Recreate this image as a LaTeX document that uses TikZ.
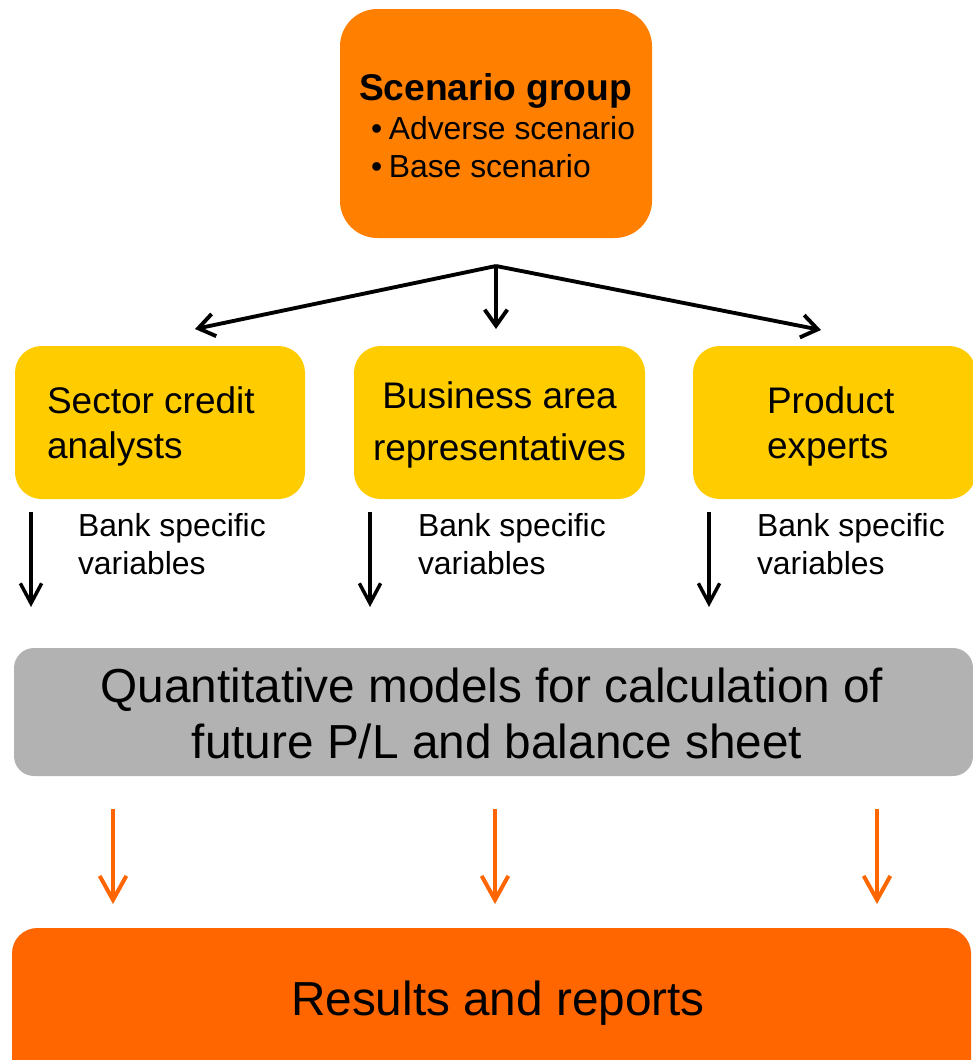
\documentclass[tikz,border=0pt]{standalone}
\usepackage{fontspec}
\setmainfont{Liberation Sans}
\usetikzlibrary{arrows.meta}

\definecolor{scenorange}{HTML}{FF8000}
\definecolor{teamyellow}{HTML}{FFCC00}
\definecolor{modelgrey}{HTML}{B2B2B2}
\definecolor{resultorange}{HTML}{FF6600}

\begin{document}
\begin{tikzpicture}[x=0.75pt,y=-0.75pt,
  panel/.style={rectangle, draw=none, inner sep=0pt, outer sep=0pt},
  txt/.style={inner sep=0pt, outer sep=0pt, text=black},
  bigfont/.style={font=\fontsize{27.75pt}{33pt}\selectfont},
  smallfont/.style={font=\fontsize{23.9pt}{28pt}\selectfont},
  hugefont/.style={font=\fontsize{35.8pt}{42pt}\selectfont},
  fanarrow/.style={line width=2.9pt, -{Straight Barb[length=12pt,width=17pt]}},
  feedarrow/.style={line width=2.6pt, -{Straight Barb[length=15pt,width=16pt]}},
  outarrow/.style={draw=resultorange, line width=3pt, -{Straight Barb[length=18pt,width=20pt]}}
]
\useasboundingbox (0,0) rectangle (973,1060);

% --- boxes ---
\node[panel, fill=scenorange, rounded corners=28pt, minimum width=234pt, minimum height=171.75pt] (scen) at (496,123.5) {};
\node[panel, fill=teamyellow, rounded corners=20pt, minimum width=217.5pt, minimum height=114.75pt] (sector) at (160,422.5) {};
\node[panel, fill=teamyellow, rounded corners=20pt, minimum width=218.25pt, minimum height=114.75pt] (business) at (499.5,422.5) {};
\node[panel, fill=teamyellow, rounded corners=20pt, minimum width=212.25pt, minimum height=114.75pt] (product) at (834.5,422.5) {};
\node[panel, fill=modelgrey, rounded corners=15pt, minimum width=719.25pt, minimum height=96pt] (quant) at (493.5,712) {};
\node[panel, fill=resultorange, rounded corners=19pt, minimum width=719.25pt, minimum height=121.5pt] (results) at (491.5,1009) {};

% --- scenario group text ---
\node[txt, anchor=base west, font=\fontsize{27.9pt}{33pt}\selectfont\bfseries] (scentitle) at (359,100) {Scenario group};
\node[txt, anchor=base west, smallfont] (scenadverse) at (371,139) {•\hspace{5pt}Adverse scenario};
\node[txt, anchor=base west, smallfont] (scenbase) at (371,177) {•\hspace{5pt}Base scenario};

% --- team texts ---
\node[txt, anchor=base west, bigfont] (sectorA) at (47,413) {Sector credit};
\node[txt, anchor=base west, bigfont] (sectorB) at (47,458) {analysts};
\node[txt, anchor=base, bigfont] (businessA) at (499.5,408) {Business area};
\node[txt, anchor=base, bigfont] (businessB) at (499.5,460) {representatives};
\node[txt, anchor=base west, bigfont] (productA) at (767,413) {Product};
\node[txt, anchor=base west, bigfont] (productB) at (767,458) {experts};

% --- bank specific variable labels ---
\node[txt, anchor=base west, smallfont] (varA1) at (78,536) {Bank specific};
\node[txt, anchor=base west, smallfont] (varA2) at (78,574) {variables};
\node[txt, anchor=base west, smallfont] (varB1) at (418,536) {Bank specific};
\node[txt, anchor=base west, smallfont] (varB2) at (418,574) {variables};
\node[txt, anchor=base west, smallfont] (varC1) at (757,536) {Bank specific};
\node[txt, anchor=base west, smallfont] (varC2) at (757,574) {variables};

% --- model and result texts ---
\node[txt, anchor=base, hugefont] (quantA) at (492,702) {Quantitative models for calculation of};
\node[txt, anchor=base, hugefont] (quantB) at (497,758) {future P/L and balance sheet};
\node[txt, anchor=base, hugefont] (resultsT) at (498,1015) {Results and reports};

% --- fan-out from scenario group ---
\coordinate (apex) at (496,266);
\coordinate (tipSector) at (195,329);
\coordinate (tipBusiness) at (496,329);
\coordinate (tipProduct) at (821,330);
\draw[fanarrow] (apex) -- (tipSector);
\draw[fanarrow] (apex) -- (tipBusiness);
\draw[fanarrow] (apex) -- (tipProduct);

% --- bank specific variables into the models ---
\coordinate (feedAs) at (31,512);  \coordinate (feedAe) at (31,607);
\coordinate (feedBs) at (370,512); \coordinate (feedBe) at (370,607);
\coordinate (feedCs) at (709,512); \coordinate (feedCe) at (709,607);
\draw[feedarrow] (feedAs) -- (feedAe);
\draw[feedarrow] (feedBs) -- (feedBe);
\draw[feedarrow] (feedCs) -- (feedCe);

% --- models to results ---
\coordinate (outAs) at (113,809); \coordinate (outAe) at (113,904);
\coordinate (outBs) at (495,809); \coordinate (outBe) at (495,904);
\coordinate (outCs) at (877,809); \coordinate (outCe) at (877,904);
\draw[outarrow] (outAs) -- (outAe);
\draw[outarrow] (outBs) -- (outBe);
\draw[outarrow] (outCs) -- (outCe);
\end{tikzpicture}
\end{document}
